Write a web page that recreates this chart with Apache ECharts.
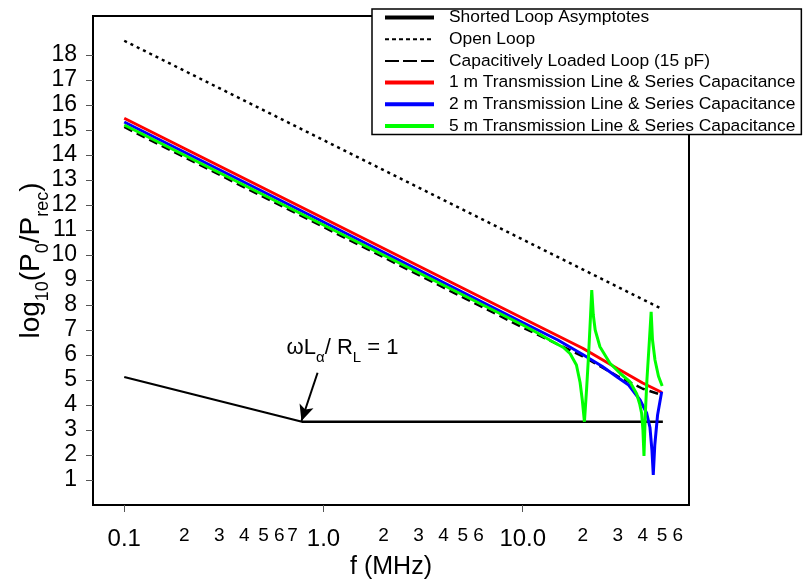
<!DOCTYPE html>
<html>
<head>
<meta charset="utf-8">
<title>Loop received power vs frequency</title>
<script src="https://cdn.jsdelivr.net/npm/echarts@6/dist/echarts.min.js"></script>
<style>
  html, body { margin: 0; padding: 0; background: #fff; }
  #chart { width: 804px; height: 588px; }
</style>
</head>
<body>
<div id="chart"></div>
<script>
  // frequency in MHz, values are log10(P0/Prec)
  var fShorted = [0.1, 0.78, 50.5];
  var vShorted = [5.12, 3.33, 3.33];

  var fOpen = [0.1, 50];
  var vOpen = [18.57, 7.84];

  var fCap = [0.1, 1, 10, 20, 30, 40, 50];
  var vCap = [15.12, 11.12, 7.1, 5.95, 5.15, 4.65, 4.4];

  var f1m = [0.1, 1, 10, 20, 30, 40, 50];
  var v1m = [15.47, 11.47, 7.47, 6.27, 5.45, 4.88, 4.5];

  var f2m = [0.1, 1, 10, 15, 20, 25, 30, 34, 38.8, 41.9, 43.5, 44.5, 45.2, 46, 47.5, 49.8];
  var v2m = [15.32, 11.32, 7.3, 6.6, 6.02, 5.55, 5.1, 4.8, 4.2, 3.67, 3.1, 2.2, 1.2, 2.4, 3.6, 4.53];

  var f5m = [0.1, 1, 10, 12, 14, 16, 17.3, 18.6, 19.4, 19.9, 20.4, 20.9, 21.4, 21.9, 22.2, 22.6, 23.1, 24.4, 27.4, 30.8, 34.5, 37.3, 38.6, 39.5, 40.1, 40.6, 41.2, 42, 43, 44.1, 44.8, 46.1, 48, 50.1];
  var v5m = [15.2, 11.2, 7.2, 6.86, 6.55, 6.3, 6.05, 5.6, 4.9, 4.2, 3.33, 4.6, 6.0, 7.6, 8.6, 7.6, 7.0, 6.33, 5.67, 5.27, 4.93, 4.45, 4.05, 3.67, 3.0, 1.96, 3.6, 5.0, 6.3, 7.73, 6.6, 5.8, 5.15, 4.76];

  var seriesNames = [
    'Shorted Loop Asymptotes',
    'Open Loop',
    'Capacitively Loaded Loop (15 pF)',
    '1 m Transmission Line & Series Capacitance',
    '2 m Transmission Line & Series Capacitance',
    '5 m Transmission Line & Series Capacitance'
  ];

  var xLabelValues = [0.1, 0.2, 0.3, 0.4, 0.5, 0.6, 0.7, 1, 2, 3, 4, 5, 6, 10, 20, 30, 40, 50, 60];
  var xTickValues = [0.1, 1, 10];
  var yTickValues = [1, 2, 3, 4, 5, 6, 7, 8, 9, 10, 11, 12, 13, 14, 15, 16, 17, 18];

  function pairs(f, v) {
    return f.map(function (x, i) { return [x, v[i]]; });
  }

  function xLabel(v) {
    var e = Math.floor(Math.log10(v) + 1e-9);
    var d = Math.round(v / Math.pow(10, e));
    if (d === 1) return '{big|' + (v < 1 ? '0.1' : v.toFixed(1)) + '}';
    return '{small|' + d + '}';
  }

  var font = 'Liberation Sans, Arial, sans-serif';
  var chart = echarts.init(document.getElementById('chart'));

  function lineSeries(name, data, color, width, type) {
    return {
      name: name,
      type: 'line',
      data: data,
      symbol: 'none',
      smooth: false,
      lineStyle: { color: color, width: width, type: type },
      itemStyle: { color: color },
      emphasis: { disabled: true }
    };
  }

  var shorted = lineSeries(seriesNames[0], pairs(fShorted, vShorted), '#000', 2.3, 'solid');
  // annotation arrow pointing at the corner of the asymptotes
  shorted.markLine = {
    silent: true,
    animation: false,
    symbol: ['none', 'arrow'],
    symbolSize: [11, 16],
    lineStyle: { color: '#000', width: 2, type: 'solid' },
    label: { show: false },
    data: [[{ coord: [0.934, 5.29] }, { coord: [0.775, 3.36] }]]
  };
  shorted.markPoint = {
    silent: true,
    animation: false,
    symbol: 'circle',
    symbolSize: 0,
    data: [{ coord: [0.653, 6.29] }],
    label: {
      show: true,
      position: 'right',
      distance: 0,
      formatter: '{m|\u03c9L}{s|\u03b1}{m|/ R}{s|L}{m| = 1}',
      rich: {
        m: { fontFamily: font, fontSize: 22, lineHeight: 24, color: '#000' },
        s: { fontFamily: font, fontSize: 15, lineHeight: 15, color: '#000', padding: [20, 0, 0, 0] }
      }
    }
  };

  // legend shows only the line sample, no marker
  var noMarker = { opacity: 0 };

  var option = {
    animation: false,
    backgroundColor: '#fff',
    grid: {
      left: 93, right: 115, top: 16, bottom: 83,
      show: true, borderColor: '#000', borderWidth: 2,
      outerBoundsMode: 'none'
    },
    legend: {
      orient: 'vertical',
      left: 372, top: 9,
      padding: [0, 6, 0, 11],
      itemWidth: 49, itemHeight: 14, itemGap: 4.7,
      backgroundColor: '#fff',
      borderColor: '#000', borderWidth: 1.5,
      selectedMode: false,
      itemStyle: noMarker,
      textStyle: { fontFamily: font, fontSize: 17.4, lineHeight: 17, color: '#000', padding: [0, 0, 0, 10] },
      data: [
        { name: seriesNames[0], itemStyle: noMarker, lineStyle: { width: 4 } },
        { name: seriesNames[1], itemStyle: noMarker, lineStyle: { width: 2, type: [4, 3] } },
        { name: seriesNames[2], itemStyle: noMarker, lineStyle: { width: 2, type: [14, 4] } },
        { name: seriesNames[3], itemStyle: noMarker, lineStyle: { width: 4 } },
        { name: seriesNames[4], itemStyle: noMarker, lineStyle: { width: 4 } },
        { name: seriesNames[5], itemStyle: noMarker, lineStyle: { width: 4 } }
      ]
    },
    xAxis: {
      type: 'log',
      logBase: 10,
      min: 0.0697,
      max: 68.3,
      name: 'f (MHz)',
      nameLocation: 'middle',
      nameGap: 50,
      nameMoveOverlap: false,
      nameTextStyle: { fontFamily: font, fontSize: 25, color: '#000' },
      axisLine: { show: false },
      axisTick: { show: true, customValues: xTickValues, length: 7, lineStyle: { color: '#555', width: 1 } },
      axisLabel: {
        customValues: xLabelValues,
        margin: 23,
        formatter: xLabel,
        rich: {
          big: { fontFamily: font, fontSize: 24, lineHeight: 23, color: '#000' },
          small: { fontFamily: font, fontSize: 19, lineHeight: 15, color: '#000' }
        }
      },
      splitLine: { show: false },
      minorTick: { show: false }
    },
    yAxis: {
      type: 'value',
      min: 0,
      max: 19.56,
      name: '{m|log}{s|10}{m|(P}{s|0}{m|/P}{s|rec}{m|)}',
      nameLocation: 'middle',
      nameGap: 48,
      nameMoveOverlap: false,
      nameTextStyle: {
        rich: {
          m: { fontFamily: font, fontSize: 28, lineHeight: 28, color: '#000' },
          s: { fontFamily: font, fontSize: 18, lineHeight: 18, color: '#000', padding: [24, 0, 0, 0] }
        }
      },
      axisLine: { show: false },
      axisTick: { show: true, customValues: yTickValues, length: 7, lineStyle: { color: '#555', width: 1 } },
      axisLabel: { customValues: yTickValues, margin: 16, fontFamily: font, fontSize: 23, color: '#000' },
      splitLine: { show: false }
    },
    series: [
      shorted,
      lineSeries(seriesNames[1], pairs(fOpen, vOpen), '#000', 2.5, [3, 4]),
      lineSeries(seriesNames[2], pairs(fCap, vCap), '#000', 2.5, [9, 5]),
      lineSeries(seriesNames[3], pairs(f1m, v1m), '#ff0000', 3, 'solid'),
      lineSeries(seriesNames[4], pairs(f2m, v2m), '#0000ff', 3, 'solid'),
      lineSeries(seriesNames[5], pairs(f5m, v5m), '#00ff00', 3, 'solid')
    ]
  };

  chart.setOption(option);
</script>
</body>
</html>
